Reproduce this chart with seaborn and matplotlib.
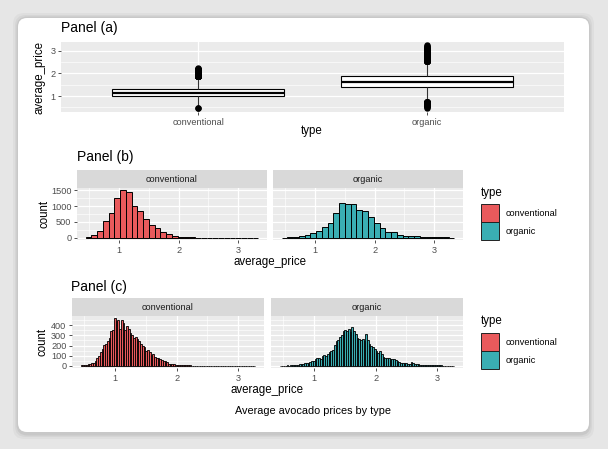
import numpy as np
import pandas as pd
import matplotlib
matplotlib.use("Agg")
import matplotlib.pyplot as plt
import seaborn as sns
from matplotlib.patches import FancyBboxPatch, Patch
from matplotlib.transforms import IdentityTransform
from matplotlib.ticker import FixedLocator

plt.rcParams["font.family"] = ["Liberation Sans", "DejaVu Sans"]

types = ["conventional", "organic"]
type_colors = ["#E95A5C", "#3AAEB3"]
price_min, price_max = 0.44, 3.25

# panel (b): counts for 30 bins
counts_b_conv = [15, 85, 225, 540, 775, 1255, 1500, 1435, 1010, 830,
                 605, 395, 300, 190, 105, 45, 25, 15, 8, 0,
                 0, 0, 0, 0, 0, 0, 0, 0, 0, 0]
counts_b_org = [3, 8, 20, 45, 85, 138, 225, 350, 480, 766,
                1096, 1075, 1075, 862, 850, 650, 480, 290, 190, 180,
                85, 55, 65, 40, 30, 20, 15, 8, 5, 3]

# panel (c): counts for 100 bins
counts_c_conv = [2, 3, 5, 8, 12, 14, 25, 30, 45, 80,
                 95, 140, 170, 205, 215, 240, 275, 340, 350, 470,
                 440, 455, 365, 450, 420, 350, 395, 365, 325, 300,
                 270, 280, 265, 245, 220, 200, 185, 150, 155, 135,
                 110, 115, 85, 78, 72, 62, 55, 50, 45, 35,
                 20, 16, 14, 12, 10, 9, 8, 6, 5, 5,
                 4, 3, 2, 1, 0, 0, 0, 0, 0, 0,
                 0, 0, 0, 0, 0, 0, 0, 0, 0, 0,
                 0, 0, 0, 0, 0, 0, 0, 0, 0, 0,
                 0, 0, 0, 0, 0, 0, 0, 0, 0, 0]
counts_c_org = [0, 1, 1, 0, 2, 1, 3, 5, 6, 8,
                10, 12, 15, 18, 22, 25, 30, 38, 42, 45,
                70, 75, 72, 68, 95, 110, 100, 120, 140, 145,
                160, 210, 240, 250, 280, 300, 340, 350, 345, 360,
                335, 380, 340, 310, 275, 265, 250, 265, 240, 315,
                250, 220, 200, 185, 170, 150, 125, 148, 115, 90,
                75, 78, 72, 68, 65, 62, 60, 42, 38, 30,
                30, 25, 25, 20, 20, 35, 28, 20, 18, 12,
                10, 9, 8, 7, 6, 5, 5, 4, 3, 3,
                2, 2, 2, 1, 1, 1, 1, 0, 1, 1]


def gg_edges(nbins):
    # same bin placement as ggplot's bins= argument
    width = (price_max - price_min) / (nbins - 1)
    origin = width / 2 + np.floor((price_min - width / 2) / width) * width
    return origin + width * np.arange(nbins + 1)


edges_b = gg_edges(30)
edges_c = gg_edges(100)
centers_c = (edges_c[:-1] + edges_c[1:]) / 2

# observations rebuilt from the fine histogram, used for the boxplot
box_df = pd.DataFrame({
    "type": np.repeat(types, [sum(counts_c_conv), sum(counts_c_org)]),
    "average_price": np.concatenate([np.repeat(centers_c, counts_c_conv),
                                     np.repeat(centers_c, counts_c_org)]),
})

W, H = 608, 449
fig = plt.figure(figsize=(W / 100, H / 100), dpi=100, facecolor="#e6e6e6")


def px_axes(x0, y0, x1, y1):
    return fig.add_axes([x0 / W, 1 - y1 / H, (x1 - x0) / W, (y1 - y0) / H])


def fig_text(x, y, s, **kw):
    kw.setdefault("va", "center")
    fig.text(x / W, 1 - y / H, s, **kw)


def gg_style(ax):
    ax.set_facecolor("#ebebeb")
    for sp in ax.spines.values():
        sp.set_visible(False)
    ax.set_axisbelow(True)
    ax.grid(True, which="major", color="white", linewidth=0.9)
    ax.grid(True, which="minor", color="white", linewidth=0.45)
    ax.tick_params(which="major", length=2.5, width=0.6, color="#333333",
                   labelcolor="#4d4d4d", labelsize=6.6, pad=1.5)
    ax.tick_params(which="minor", length=0)
    ax.set_xlabel("")
    ax.set_ylabel("")


# card with soft shadow
for grow, alpha in [(5, 0.03), (3, 0.04), (1.5, 0.06)]:
    fig.add_artist(FancyBboxPatch((18 - grow, H - 434 - grow), 571 + 2 * grow, 416 + 2 * grow,
                                  boxstyle="round,pad=0,rounding_size=11", fc="black",
                                  ec="none", alpha=alpha, transform=IdentityTransform(), zorder=-2))
fig.add_artist(FancyBboxPatch((18, H - 432), 571, 414, boxstyle="round,pad=0,rounding_size=9",
                              fc="white", ec="none", transform=IdentityTransform(), zorder=-1))

# ---- Panel (a): boxplot ----
ax_a = px_axes(61, 42, 564, 112)
sns.boxplot(data=box_df, x="type", y="average_price", order=types, ax=ax_a,
            color="white", linecolor="black", linewidth=0.8, width=0.75, showcaps=False,
            flierprops=dict(marker="o", markersize=3.6, markerfacecolor="black",
                            markeredgecolor="black"),
            medianprops=dict(linewidth=1.6), whiskerprops=dict(color="#333333"))
gg_style(ax_a)
ax_a.set_xlim(-0.6, 1.6)
rng = price_max - price_min
ax_a.set_ylim(price_min - 0.05 * rng, price_max + 0.05 * rng)
ax_a.yaxis.set_major_locator(FixedLocator([1, 2, 3]))
ax_a.yaxis.set_minor_locator(FixedLocator([0.5, 1.5, 2.5]))
ax_a.grid(True, axis="x", which="major", color="white", linewidth=0.9)
fig_text(61, 28, "Panel (a)", fontsize=10)
fig_text(40, 77, "average_price", fontsize=8.3, rotation=90, ha="center")
fig_text(312, 131, "type", fontsize=8.3, ha="center")


def facet_hist(boxes, strip_top, edges, counts_list, ymajor, yminor, lw):
    centers = (edges[:-1] + edges[1:]) / 2
    ymax = max(max(c) for c in counts_list)
    span = edges[-1] - edges[0]
    for i, (box, counts) in enumerate(zip(boxes, counts_list)):
        ax = px_axes(*box)
        sns.histplot(x=centers, weights=counts, bins=list(edges), ax=ax, color=type_colors[i],
                     edgecolor="black", linewidth=lw, alpha=1)
        gg_style(ax)
        ax.set_xlim(edges[0] - 0.05 * span, edges[-1] + 0.05 * span)
        ax.set_ylim(-0.05 * ymax, 1.05 * ymax)
        ax.xaxis.set_major_locator(FixedLocator([1, 2, 3]))
        ax.xaxis.set_minor_locator(FixedLocator([0.5, 1.5, 2.5, 3.5]))
        ax.yaxis.set_major_locator(FixedLocator(ymajor))
        ax.yaxis.set_minor_locator(FixedLocator(yminor))
        if i > 0:
            ax.tick_params(axis="y", which="both", left=False, labelleft=False)
        st = px_axes(box[0], strip_top, box[2], box[1])
        st.set_facecolor("#d9d9d9")
        st.set_xticks([])
        st.set_yticks([])
        for sp in st.spines.values():
            sp.set_visible(False)
        st.text(0.5, 0.5, types[i], ha="center", va="center", fontsize=6.6,
                color="#1a1a1a", transform=st.transAxes)


def add_legend(x, y_title, y_keys):
    fig_text(x, y_title, "type", fontsize=8.3)
    handles = [Patch(facecolor=c, edgecolor="#222222", linewidth=0.7) for c in type_colors]
    fig.legend(handles, types, loc="upper left",
               bbox_to_anchor=(x / W, 1 - y_keys / H), frameon=False, fontsize=6.6,
               handlelength=1.96, handleheight=2.64, labelspacing=0.0,
               handletextpad=0.75, borderaxespad=0, borderpad=0)


# ---- Panel (b): 30 bins ----
facet_hist([(77, 188, 267, 240), (273, 188, 463, 240)], 170, edges_b,
           [counts_b_conv, counts_b_org], [0, 500, 1000, 1500], [250, 750, 1250], 0.7)
fig_text(77, 157, "Panel (b)", fontsize=10)
fig_text(44, 214, "count", fontsize=8.3, rotation=90, ha="center")
fig_text(270, 262, "average_price", fontsize=8.3, ha="center")
add_legend(481, 193, 204)

# ---- Panel (c): 100 bins ----
facet_hist([(72, 316, 264, 368), (271, 316, 463, 368)], 298, edges_c,
           [counts_c_conv, counts_c_org], [0, 100, 200, 300, 400],
           [50, 150, 250, 350, 450], 0.6)
fig_text(71, 287, "Panel (c)", fontsize=10)
fig_text(43, 342, "count", fontsize=8.3, rotation=90, ha="center")
fig_text(267, 390, "average_price", fontsize=8.3, ha="center")
add_legend(481, 321, 333)

fig_text(313, 411, "Average avocado prices by type", fontsize=7.8, ha="center")

fig.savefig("out.png", dpi=100, facecolor=fig.get_facecolor())
